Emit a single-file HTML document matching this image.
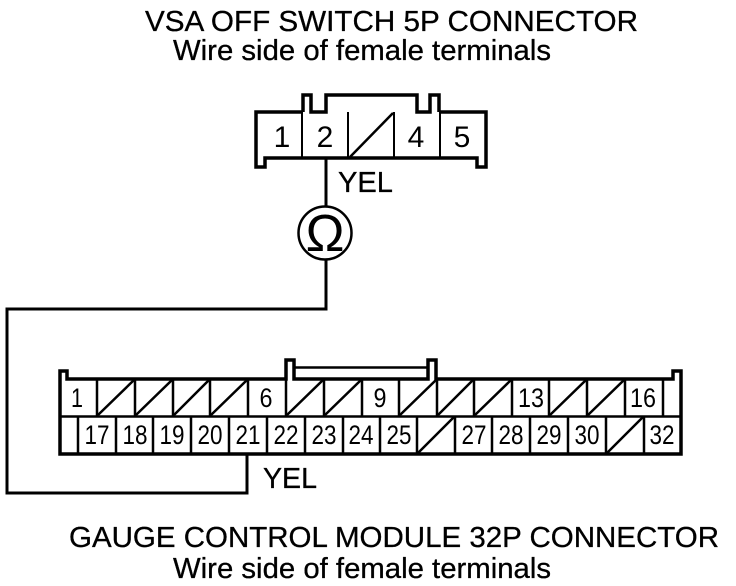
<!DOCTYPE html>
<html><head><meta charset="utf-8"><style>
html,body{margin:0;padding:0;background:#fff}
svg{display:block}
text{font-family:"Liberation Sans",sans-serif;fill:#000}
</style></head><body>
<svg width="736" height="586" viewBox="0 0 736 586" xmlns="http://www.w3.org/2000/svg">
<g font-size="29" stroke="#000" stroke-width="0.3">
<text x="145" y="31" textLength="493" lengthAdjust="spacingAndGlyphs">VSA OFF SWITCH 5P CONNECTOR</text>
<text x="173" y="60" textLength="378" lengthAdjust="spacingAndGlyphs">Wire side of female terminals</text>
<text x="69" y="547" textLength="650" lengthAdjust="spacingAndGlyphs">GAUGE CONTROL MODULE 32P CONNECTOR</text>
<text x="173" y="578" textLength="378" lengthAdjust="spacingAndGlyphs">Wire side of female terminals</text>
<text x="338" y="192" textLength="55" lengthAdjust="spacingAndGlyphs">YEL</text>
<text x="263" y="488" textLength="54" lengthAdjust="spacingAndGlyphs">YEL</text>
</g>

<!-- top connector -->
<g fill="none" stroke="#000">
<path stroke-width="3.500" d="M303 112V95H311V112H326V95H417V112H430V95H439V112"/>
<path stroke-width="3.500" d="M303 112H256V167H265V158H477V167H486V112H439"/>
<path stroke-width="2" d="M302 112V157M348 112V157M394 112V157M440 112V157"/>
<path stroke-width="2.500" d="M350 157L393 113"/>
<path stroke-width="3" d="M326 157V207M326 260V309H7V493H247V454"/>
<circle cx="325" cy="233" r="26.500" stroke-width="2.500"/>
</g>
<text x="325" y="251" font-size="52" text-anchor="middle">Ω</text>
<g font-size="30" text-anchor="middle">
<text x="282" y="147">1</text>
<text x="325" y="147">2</text>
<text x="416" y="147">4</text>
<text x="462" y="147">5</text>
</g>

<!-- bottom connector -->
<g fill="none" stroke="#000">
<path stroke-width="3.500" d="M60 416V371H67V379H286V360H294V379H428V360H436V379H673V371H681V454H60V416"/>
<path stroke-width="2.500" d="M294 367.500H428"/>
<path stroke-width="2.500" d="M60 416.500H681"/>
<path stroke-width="2.500" d="M97 380V416M135 380V416M173 380V416M210 380V416M248 380V416M286 380V416M324 380V416M362 380V416M399 380V416M437 380V416M474 380V416M512 380V416M549 380V416M587 380V416M625 380V416M663 380V416"/>
<path stroke-width="2.500" d="M78 416V454M116 416V454M153 416V454M191 416V454M229 416V454M267 416V454M305 416V454M343 416V454M380 416V454M417 416V454M455 416V454M492 416V454M530 416V454M568 416V454M606 416V454M644 416V454"/>
<path stroke-width="2.500" d="M98 415L134 380M136 415L172 380M174 415L209 380M211 415L247 380M287 415L323 380M325 415L361 380M400 415L436 380M438 415L473 380M475 415L511 380M550 415L586 380M588 415L624 380M418 453L454 417M607 453L643 417"/>
</g>
<g font-size="27" text-anchor="middle">
<text x="77" y="407" textLength="12" lengthAdjust="spacingAndGlyphs">1</text>
<text x="266" y="407" textLength="13" lengthAdjust="spacingAndGlyphs">6</text>
<text x="380" y="407" textLength="13" lengthAdjust="spacingAndGlyphs">9</text>
<text x="531" y="407" textLength="26" lengthAdjust="spacingAndGlyphs">13</text>
<text x="643" y="407" textLength="26" lengthAdjust="spacingAndGlyphs">16</text>
<text x="97" y="444" textLength="25" lengthAdjust="spacingAndGlyphs">17</text>
<text x="135" y="444" textLength="25" lengthAdjust="spacingAndGlyphs">18</text>
<text x="172" y="444" textLength="25" lengthAdjust="spacingAndGlyphs">19</text>
<text x="210" y="444" textLength="25" lengthAdjust="spacingAndGlyphs">20</text>
<text x="248" y="444" textLength="25" lengthAdjust="spacingAndGlyphs">21</text>
<text x="286" y="444" textLength="25" lengthAdjust="spacingAndGlyphs">22</text>
<text x="324" y="444" textLength="25" lengthAdjust="spacingAndGlyphs">23</text>
<text x="361" y="444" textLength="25" lengthAdjust="spacingAndGlyphs">24</text>
<text x="399" y="444" textLength="25" lengthAdjust="spacingAndGlyphs">25</text>
<text x="474" y="444" textLength="25" lengthAdjust="spacingAndGlyphs">27</text>
<text x="511" y="444" textLength="25" lengthAdjust="spacingAndGlyphs">28</text>
<text x="549" y="444" textLength="25" lengthAdjust="spacingAndGlyphs">29</text>
<text x="587" y="444" textLength="25" lengthAdjust="spacingAndGlyphs">30</text>
<text x="662" y="444" textLength="25" lengthAdjust="spacingAndGlyphs">32</text>
</g>
</svg>
</body></html>
